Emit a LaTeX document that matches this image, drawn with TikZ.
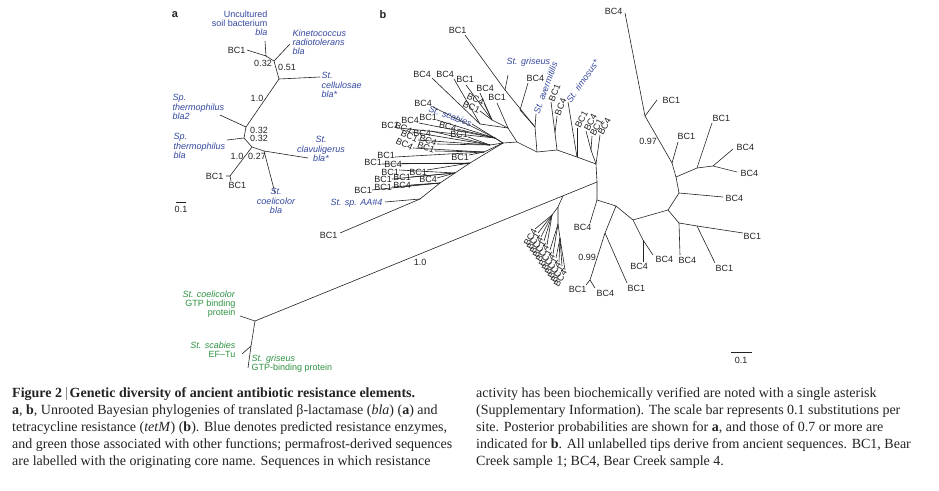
\documentclass[tikz,border=0pt]{standalone}
\usepackage{fontspec}
\usetikzlibrary{calc}
\setmainfont{Liberation Serif}
\newfontfamily\labfont{Liberation Sans}
\definecolor{tblue}{RGB}{52,72,160}
\definecolor{tgreen}{RGB}{46,146,66}
\definecolor{tink}{RGB}{35,35,35}
\tikzset{
  br/.style={draw=tink, line width=0.6pt},
  lb/.style={font=\labfont\fontsize{9}{9.3}\selectfont, inner sep=0.5pt, text=tink},
  lbi/.style={lb, text=tblue, font=\labfont\itshape\fontsize{9}{9.3}\selectfont},
  lbg/.style={lb, text=tgreen},
  rlab/.style={lb, rotate=#1, anchor=east},
  rulab/.style={lb, rotate=#1, anchor=west},
  pnl/.style={font=\labfont\bfseries\fontsize{11}{12}\selectfont, inner sep=0pt, text=tink},
  captxt/.style={font=\fontsize{14}{17}\selectfont, inner sep=0pt, anchor=base west, text=tink},
}
\begin{document}
\begin{tikzpicture}[x=1pt,y=-1pt]
\useasboundingbox[fill=white] (0,0) rectangle (939,490);

% ================= panel a =================
\node[pnl] (pa) at (175,15) {a};
\coordinate (a1) at (266,56);
\coordinate (a2) at (274,61);
\coordinate (a3) at (279,79);
\coordinate (a4) at (246,127);
\coordinate (a5) at (244,138);
\coordinate (a6) at (252,147);
\coordinate (a7) at (264,151);
\coordinate (a8) at (230,176);
\coordinate (ta1) at (247,50);
\coordinate (ta2) at (265,41);
\coordinate (ta3) at (290,44);
\coordinate (ta4) at (320,77);
\coordinate (ta5) at (220,115);
\coordinate (ta6) at (227,140);
\coordinate (ta7) at (308,158);
\coordinate (ta8) at (275,193);
\coordinate (ta9) at (226,176);
\coordinate (ta10) at (231,181);
\draw[br] (ta1) -- (a1) -- (ta2);
\draw[br] (a1) -- (a2) -- (ta3);
\draw[br] (a2) -- (a3) -- (ta4);
\draw[br] (a3) -- (a4) -- (ta5);
\draw[br] (a4) -- (a5) -- (ta6);
\draw[br] (a5) -- (a6) -- (a7) -- (ta7);
\draw[br] (a7) -- (ta8);
\draw[br] (a6) -- (a8) -- (ta9);
\draw[br] (a8) -- (ta10);

\node[lbi, anchor=north east, align=right] (la2) at (268,10) {\textup{Uncultured}\\\textup{soil bacterium}\\bla};
\node[lbi, anchor=north west, align=left] (la3) at (292,29) {Kinetococcus\\radiotolerans\\bla};
\node[lb, anchor=east] (la1) at (246,50) {BC1};
\node[lbi, anchor=north west, align=left] (la4) at (321,72) {St.\\cellulosae\\bla*};
\node[lbi, anchor=north west, align=left] (la5) at (172,94) {Sp.\\thermophilus\\bla2};
\node[lbi, anchor=north west, align=left] (la6) at (173,133) {Sp.\\thermophilus\\bla};
\node[lbi, anchor=north, align=center] (la7) at (321,136) {St.\\clavuligerus\\bla*};
\node[lbi, anchor=north, align=center] (la8) at (276,188) {St.\\coelicolor\\bla};
\node[lb, anchor=east] (la9) at (224,176) {BC1};
\node[lb, anchor=west] (la10) at (228,185) {BC1};
\node[lb] (pa1) at (263,63) {0.32};
\node[lb] (pa2) at (287,67) {0.51};
\node[lb] (pa3) at (257,98) {1.0};
\node[lb] (pa4) at (259,130) {0.32};
\node[lb] (pa5) at (259,138) {0.32};
\node[lb] (pa6) at (237,156) {1.0};
\node[lb] (pa7) at (257,156) {0.27};
\coordinate (sa1) at (176,202);
\coordinate (sa2) at (186,202);
\draw[br] (sa1) -- (sa2);
\node[lb] (sal) at (181,209) {0.1};

% ================= panel b =================
\node[pnl] (pb) at (383,15) {b};
% backbone
\coordinate (LC) at (503,143);
\coordinate (L0) at (517,142);
\coordinate (B1) at (537,152);
\coordinate (B2) at (557,150);
\coordinate (B3) at (577,157);
\coordinate (B4) at (596,164);
\coordinate (M) at (597,182);
\coordinate (N) at (597,200);
\draw[br] (LC) -- (L0) -- (B1) -- (B2) -- (B3) -- (B4) -- (M) -- (N);

% top cluster
\coordinate (T1) at (535,127);
\coordinate (P1) at (505,90);
\coordinate (Q1) at (520,110);
\coordinate (tb1) at (465,35);
\coordinate (tb2) at (508,75);
\coordinate (tb3) at (528,83);
\coordinate (tb4) at (536,114);
\draw[br] (B1) -- (T1) -- (P1) -- (tb1);
\draw[br] (P1) -- (tb2);
\draw[br] (T1) -- (Q1) -- (tb3);
\draw[br] (T1) -- (tb4);
\node[lb, anchor=south east] (ltb1) at (467,34) {BC1};
\node[lbi, anchor=south west] (ltb2) at (506,67) {St. griseus};
\node[lb, anchor=south west] (ltb3) at (526,82) {BC4};
\node[lbi, rotate=70, anchor=west] (ltb4) at (tb4) {St. avermitilis};
\coordinate (Q2) at (555,133);
\coordinate (tb5) at (551,102);
\coordinate (tb6) at (557,116);
\draw[br] (B2) -- (Q2) -- (tb5);
\draw[br] (Q2) -- (tb6);
\node[rulab=68] (ltb5) at (tb5) {BC1};
\node[rulab=68] (ltb6) at (tb6) {BC4};
\coordinate (tb7) at (568,102);
\coordinate (tb8) at (577,128);
\draw[br] (B3) -- (tb7);
\draw[br] (B3) -- (tb8);
\node[lbi, rotate=55, anchor=west] (ltb7) at (tb7) {St. rimosus*};
\node[rulab=62] (ltb8) at (tb8) {BC1};
\coordinate (Q4) at (591,150);
\coordinate (tb9) at (586,131);
\coordinate (tb10) at (592,136);
\coordinate (tb11) at (600,135);
\draw[br] (B4) -- (Q4) -- (tb9);
\draw[br] (Q4) -- (tb10);
\draw[br] (B4) -- (tb11);
\node[rulab=62] (ltb9) at (tb9) {BC4};
\node[rulab=62] (ltb10) at (tb10) {BC1};
\node[rulab=62] (ltb11) at (tb11) {BC4};

% right subtree
\coordinate (R1) at (616,206);
\coordinate (R2) at (605,233);
\coordinate (R3) at (590,280);
\coordinate (R4) at (633,220);
\coordinate (R5) at (643,240);
\coordinate (R6) at (668,210);
\coordinate (R7) at (679,223);
\coordinate (R8) at (697,226);
\coordinate (R9) at (679,193);
\coordinate (R10) at (676,177);
\coordinate (R11) at (697,168);
\coordinate (R12) at (672,163);
\coordinate (R13) at (713,166);
\coordinate (R14) at (645,116);
\coordinate (tr1) at (590,223);
\coordinate (tr2) at (586,285);
\coordinate (tr3) at (595,288);
\coordinate (tr4) at (627,283);
\coordinate (tr5) at (653,255);
\coordinate (tr6) at (643,262);
\coordinate (tr7) at (680,255);
\coordinate (tr8) at (743,233);
\coordinate (tr9) at (715,263);
\coordinate (tr10) at (723,197);
\coordinate (tr11) at (712,123);
\coordinate (tr12) at (733,149);
\coordinate (tr13) at (737,172);
\coordinate (tr14) at (678,142);
\coordinate (tr15) at (657,100);
\coordinate (tr16) at (625,13);
\draw[br] (N) -- (tr1);
\draw[br] (N) -- (R1) -- (R2) -- (R3) -- (tr2);
\draw[br] (R3) -- (tr3);
\draw[br] (R2) -- (tr4);
\draw[br] (R1) -- (R4) -- (R5) -- (tr5);
\draw[br] (R5) -- (tr6);
\draw[br] (R4) -- (R6) -- (R7) -- (tr7);
\draw[br] (R7) -- (R8) -- (tr8);
\draw[br] (R8) -- (tr9);
\draw[br] (R6) -- (R9) -- (tr10);
\draw[br] (R9) -- (R10) -- (R11) -- (tr11);
\draw[br] (R11) -- (R13) -- (tr12);
\draw[br] (R13) -- (tr13);
\draw[br] (R10) -- (R12) -- (tr14);
\draw[br] (R12) -- (R14) -- (tr15);
\draw[br] (R14) -- (tr16);
\node[lb, anchor=north east] (ltr1) at (592,224) {BC4};
\node[lb, anchor=north east] (ltr2) at (587,286) {BC1};
\node[lb, anchor=north west] (ltr3) at (596,290) {BC4};
\node[lb, anchor=north west] (ltr4) at (627,285) {BC1};
\node[lb, anchor=north west] (ltr5) at (655,256) {BC4};
\node[lb, anchor=north] (ltr6) at (639,263) {BC4};
\node[lb, anchor=north west] (ltr7) at (678,257) {BC4};
\node[lb, anchor=north west] (ltr8) at (743,233) {BC1};
\node[lb, anchor=north west] (ltr9) at (715,265) {BC1};
\node[lb, anchor=west] (ltr10) at (725,198) {BC4};
\node[lb, anchor=south west] (ltr11) at (712,122) {BC1};
\node[lb, anchor=west] (ltr12) at (736,147) {BC4};
\node[lb, anchor=west] (ltr13) at (740,173) {BC4};
\node[lb, anchor=south west] (ltr14) at (677,140) {BC1};
\node[lb, anchor=west] (ltr15) at (662,100) {BC1};
\node[lb, anchor=east] (ltr16) at (623,11) {BC4};
\node[lb] (p97) at (648,141) {0.97};
\node[lb] (p99) at (587,257) {0.99};

% left cluster hubs
\coordinate (U0) at (508,128);
\coordinate (U1) at (492,120);
\coordinate (U2) at (480,124);
\coordinate (K1) at (495,138);
\coordinate (K2) at (490,145);
\coordinate (K3) at (484,152);
\coordinate (D0) at (420,199);
\coordinate (D1) at (440,183);
\coordinate (D3) at (455,173);
\coordinate (D2) at (470,163);
\draw[br] (L0) -- (U0) -- (U1);
\draw[br] (U0) -- (U2);
\draw[br] (LC) -- (K1);
\draw[br] (LC) -- (K2);
\draw[br] (LC) -- (K3);
\draw[br] (LC) -- (D2) -- (D3) -- (D1) -- (D0);
% upper group
\coordinate (u1) at (432,78);
\coordinate (u2) at (454,79);
\coordinate (u3) at (466,85);
\coordinate (u4) at (480,93);
\coordinate (u5) at (497,103);
\coordinate (u6) at (484,103);
\coordinate (u7) at (480,111);
\draw[br] (U2) -- (u1);
\draw[br] (U2) -- (u2);
\draw[br] (U1) -- (u3);
\draw[br] (U1) -- (u4);
\draw[br] (U0) -- (u5);
\draw[br] (U1) -- (u6);
\draw[br] (U1) -- (u7);
\node[lb] (lu1) at (422,74) {BC4};
\node[lb] (lu2) at (445,74) {BC4};
\node[lb] (lu3) at (465,79) {BC1};
\node[lb] (lu4) at (485,88) {BC4};
\node[lb] (lu5) at (497,97) {BC1};
\node[rlab=-25] (lu6) at (u6) {BC4};
\node[rlab=-25] (lu7) at (u7) {BC1};
% middle group
\coordinate (sct) at (472,124);
\draw[br] (LC) -- (sct);
\node[lbi, rotate=-20, anchor=east] (lsc) at (sct) {St. scabies};
\coordinate (m1) at (433,107);
\coordinate (m2) at (399,128);
\coordinate (m3) at (419,123);
\coordinate (m4) at (437,120);
\coordinate (m5) at (457,129);
\coordinate (m6) at (431,131);
\coordinate (m7) at (468,137);
\coordinate (m8) at (469,155);
\coordinate (m9) at (395,157);
\coordinate (m10) at (382,164);
\coordinate (m11) at (402,163);
\coordinate (r1) at (412,132);
\coordinate (r2) at (418,140);
\coordinate (r3) at (413,148);
\coordinate (r4) at (437,144);
\coordinate (r5) at (435,151);
\draw[br] (K1) -- (m1);
\draw[br] (K1) -- (m2);
\draw[br] (K1) -- (m3);
\draw[br] (K1) -- (m4);
\draw[br] (K1) -- (m5);
\draw[br] (K2) -- (m6);
\draw[br] (K2) -- (m7);
\draw[br] (K2) -- (r1);
\draw[br] (K2) -- (r2);
\draw[br] (K2) -- (r4);
\draw[br] (K3) -- (r3);
\draw[br] (K3) -- (r5);
\draw[br] (K3) -- (m8);
\draw[br] (K3) -- (m9);
\draw[br] (D2) -- (m10);
\draw[br] (D2) -- (m11);
\node[lb] (lm1) at (423,103) {BC4};
\node[lb] (lm2) at (390,125) {BC1};
\node[lb] (lm3) at (410,120) {BC4};
\node[lb] (lm4) at (428,117) {BC1};
\node[rlab=-15] (lm5) at (m5) {BC4};
\node[lb] (lm6) at (422,133) {BC4};
\node[lb] (lm7) at (459,134) {BC1};
\node[lb] (lm8) at (460,157) {BC1};
\node[lb] (lm9) at (386,155) {BC1};
\node[lb] (lm10) at (373,162) {BC1};
\node[lb] (lm11) at (393,164) {BC4};
\node[rlab=-25] (lr1) at (r1) {BC4};
\node[rlab=-25] (lr2) at (r2) {BC1};
\node[rlab=-25] (lr3) at (r3) {BC4};
\node[rlab=-20] (lr4) at (r4) {BC4};
\node[rlab=-20] (lr5) at (r5) {BC1};
% lower group
\coordinate (l1) at (399,170);
\coordinate (l2) at (427,170);
\coordinate (l3) at (392,179);
\coordinate (l4) at (411,177);
\coordinate (l5) at (437,178);
\coordinate (l6) at (392,187);
\coordinate (l7) at (411,185);
\coordinate (l8) at (372,190);
\coordinate (laa) at (385,202);
\coordinate (lbb) at (340,233);
\draw[br] (D3) -- (l1);
\draw[br] (D2) -- (l2);
\draw[br] (D3) -- (l3);
\draw[br] (D3) -- (l4);
\draw[br] (D3) -- (l5);
\draw[br] (D1) -- (l6);
\draw[br] (D1) -- (l7);
\draw[br] (D1) -- (l8);
\draw[br] (D0) -- (laa);
\draw[br] (D0) -- (lbb);
\node[lb] (ll1) at (390,172) {BC1};
\node[lb] (ll2) at (418,172) {BC1};
\node[lb] (ll3) at (383,179) {BC1};
\node[lb] (ll4) at (402,177) {BC1};
\node[lb] (ll5) at (428,179) {BC4};
\node[lb] (ll6) at (383,187) {BC1};
\node[lb] (ll7) at (402,185) {BC4};
\node[lb] (ll8) at (363,190) {BC1};
\node[lbi, anchor=east] (llaa) at (383,203) {St. sp. AA\#4};
\node[lb, anchor=east] (llbb) at (338,235) {BC1};

% green subtree and long branch
\coordinate (G0) at (255,321);
\draw[br] (G0) -- (M);
\node[lb] (p10) at (420,262) {1.0};
\coordinate (G2) at (251,346);
\coordinate (tg1) at (240,316);
\coordinate (tg2) at (242,354);
\coordinate (tg3) at (248,368);
\draw[br] (G0) -- (tg1);
\draw[br] (G0) -- (G2) -- (tg2);
\draw[br] (G2) -- (tg3);
\node[lbg, anchor=north east, align=right] (lg1) at (236,290) {\textit{St. coelicolor}\\GTP binding\\protein};
\node[lbg, anchor=north east, align=right] (lg2) at (236,341) {\textit{St. scabies}\\EF–Tu};
\node[lbg, anchor=north west, align=left] (lg3) at (251,354) {\textit{St. griseus}\\GTP-binding protein};

% bottom rotated cluster
\coordinate (G1) at ($(G0)!0.9006!(M)$);
\coordinate (H) at (558,207);
\coordinate (h1) at (552,215);
\coordinate (h2) at (558,224);
\coordinate (h3) at (560,238);
\draw[br] (G1) -- (H) -- (h1);
\draw[br] (H) -- (h2) -- (h3);
\coordinate (c1) at (535,229);
\coordinate (c2) at (538,233);
\coordinate (c3) at (541,237);
\coordinate (c4) at (544,241);
\coordinate (c5) at (547,245);
\coordinate (d1) at (550,250);
\coordinate (d2) at (553,254);
\coordinate (d3) at (556,258);
\coordinate (d4) at (559,262);
\coordinate (d5) at (562,266);
\coordinate (d6) at (565,270);
\draw[br] (h1) -- (c1);
\draw[br] (h1) -- (c2);
\draw[br] (h1) -- (c3);
\draw[br] (h1) -- (c4);
\draw[br] (h1) -- (c5);
\draw[br] (h2) -- (d1);
\draw[br] (h2) -- (d2);
\draw[br] (h3) -- (d3);
\draw[br] (h3) -- (d4);
\draw[br] (h3) -- (d5);
\draw[br] (h3) -- (d6);
\node[rlab=60] (lc1) at (c1) {BC4};
\node[rlab=60] (lc2) at (c2) {BC1};
\node[rlab=60] (lc3) at (c3) {BC4};
\node[rlab=60] (lc4) at (c4) {BC1};
\node[rlab=60] (lc5) at (c5) {BC4};
\node[rlab=60] (ld1) at (d1) {BC1};
\node[rlab=60] (ld2) at (d2) {BC4};
\node[rlab=60] (ld3) at (d3) {BC1};
\node[rlab=60] (ld4) at (d4) {BC4};
\node[rlab=60] (ld5) at (d5) {BC1};
\node[rlab=60] (ld6) at (d6) {BC4};

% scale bar b
\coordinate (sb1) at (731,352);
\coordinate (sb2) at (752,352);
\draw[br] (sb1) -- (sb2);
\node[lb] (sbl) at (741,360) {0.1};

% ================= caption =================
\node[captxt] (c1l) at (12,397) {\textbf{Figure 2} {\color{black!45}\rule[-2.5pt]{0.6pt}{13pt}} \textbf{Genetic diversity of ancient antibiotic resistance elements.}};
\node[captxt] (c2l) at (12,414) {\textbf{a}, \textbf{b}, Unrooted Bayesian phylogenies of translated β-lactamase (\textit{bla}) (\textbf{a}) and};
\node[captxt] (c3l) at (12,431) {tetracycline resistance (\textit{tetM}) (\textbf{b}). Blue denotes predicted resistance enzymes,};
\node[captxt] (c4l) at (12,448) {and green those associated with other functions; permafrost-derived sequences};
\node[captxt] (c5l) at (12,465) {are labelled with the originating core name. Sequences in which resistance};
\node[captxt] (c1r) at (476,397) {activity has been biochemically verified are noted with a single asterisk};
\node[captxt] (c2r) at (476,414) {(Supplementary Information). The scale bar represents 0.1 substitutions per};
\node[captxt] (c3r) at (476,431) {site. Posterior probabilities are shown for \textbf{a}, and those of 0.7 or more are};
\node[captxt] (c4r) at (476,448) {indicated for \textbf{b}. All unlabelled tips derive from ancient sequences. BC1, Bear};
\node[captxt] (c5r) at (476,465) {Creek sample 1; BC4, Bear Creek sample 4.};
\end{tikzpicture}
\end{document}
